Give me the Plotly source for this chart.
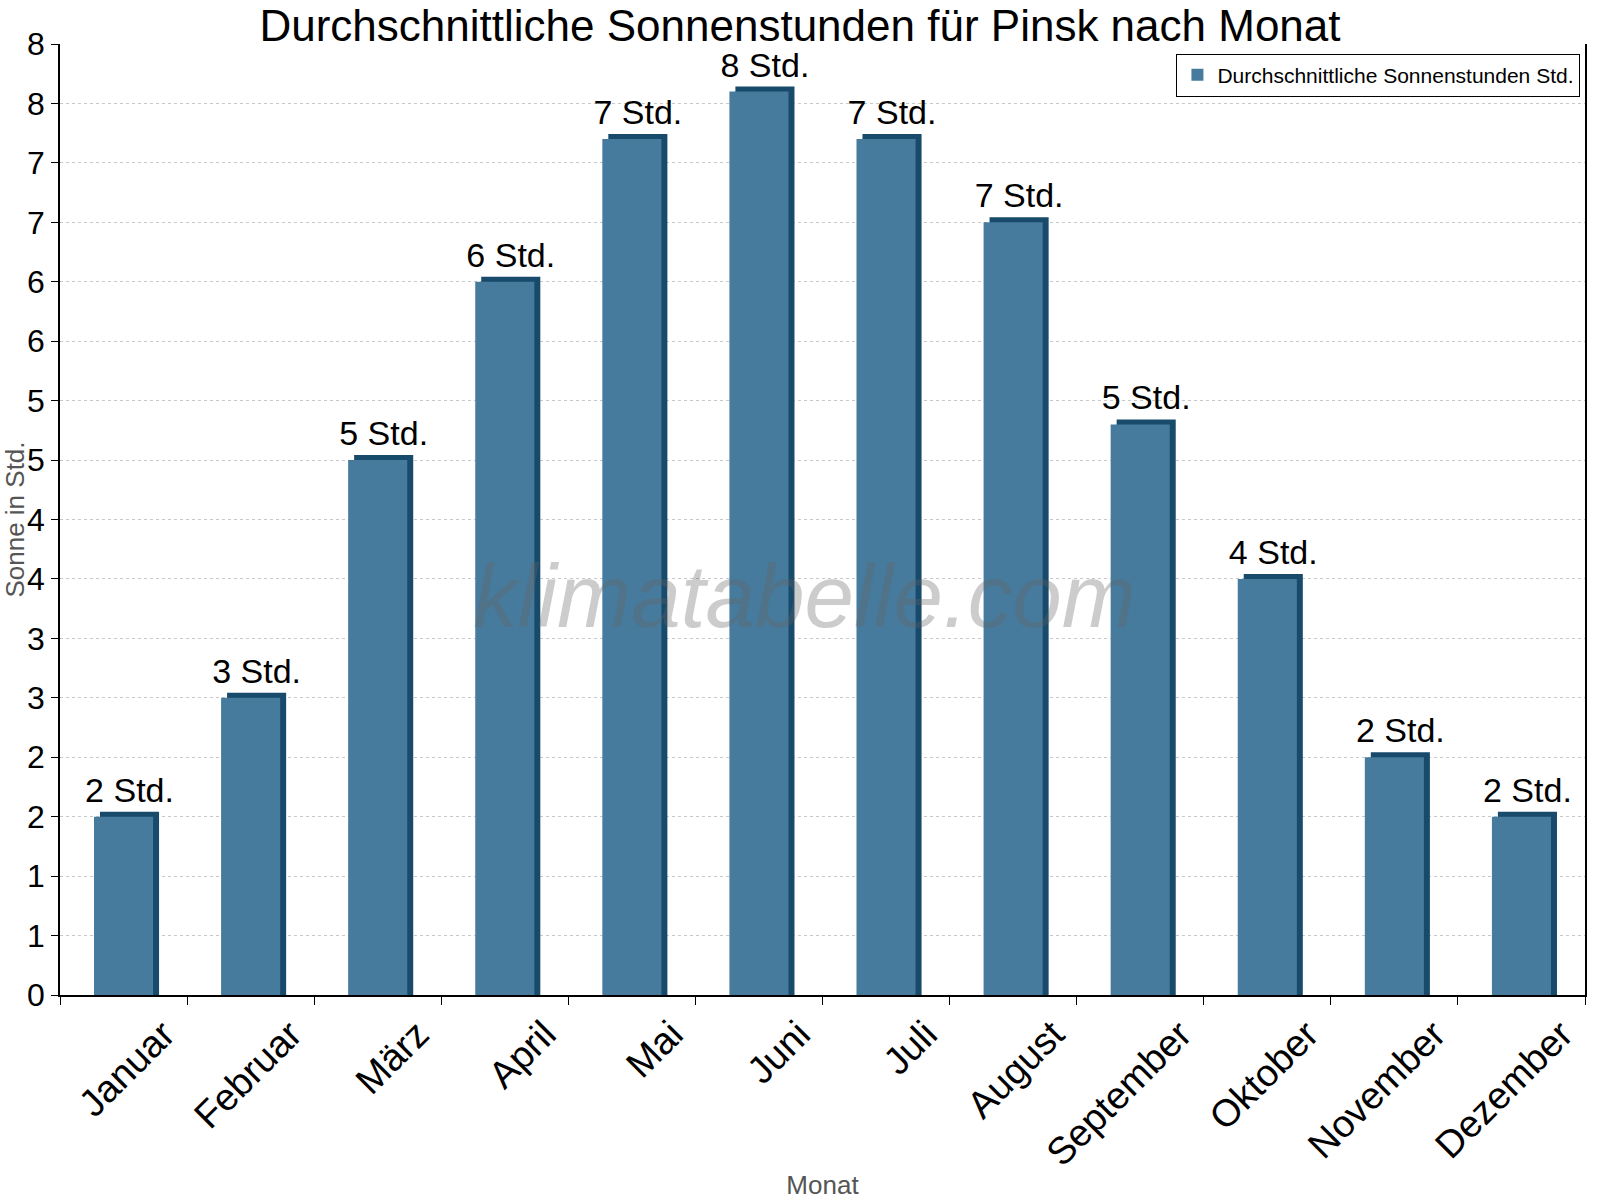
import plotly.graph_objects as go

monate = ['Januar', 'Februar', 'März', 'April', 'Mai', 'Juni',
          'Juli', 'August', 'September', 'Oktober', 'November', 'Dezember']
sonne = [1.5, 2.5, 4.5, 6.0, 7.2, 7.6, 7.2, 6.5, 4.8, 3.5, 2.0, 1.5]
y_ticks = [i * 0.5 for i in range(17)]


def rund(v):
    # round half up like the original labels
    return int(v + 0.5)


labels = [str(rund(v)) + ' Std.' for v in sonne]
tick_text = [str(rund(v)) for v in y_ticks]

front = '#467b9d'
dunkel = '#174a6b'
breite = 0.465

fig = go.Figure()

# darker block behind the bar -> gives the side/top depth look
fig.add_trace(go.Bar(
    x=monate, y=[v + 0.042 for v in sonne],
    width=breite, offset=-breite / 2 + 0.047,
    marker_color=dunkel, marker_line_width=0,
    text=labels, textposition='outside', constraintext='none',
    textfont=dict(size=34, color='black'),
    cliponaxis=False, showlegend=False, hoverinfo='skip',
))
fig.add_trace(go.Bar(
    x=monate, y=sonne,
    width=breite, offset=-breite / 2,
    marker_color=front, marker_line_width=0,
    name='Durchschnittliche Sonnenstunden Std.',
))

fig.update_layout(
    width=1600, height=1200,
    barmode='overlay',
    plot_bgcolor='white', paper_bgcolor='white',
    font=dict(family='Liberation Sans, Arial, sans-serif', color='black'),
    margin=dict(l=60, r=15, t=44, b=205),
    title=dict(text='Durchschnittliche Sonnenstunden für Pinsk nach Monat',
               x=0.5, xanchor='center', y=0.979, yanchor='middle',
               font=dict(size=44, color='black')),
    legend=dict(x=0.997, y=0.99, xanchor='right', yanchor='top',
                bordercolor='black', borderwidth=1, bgcolor='white',
                font=dict(size=21)),
    annotations=[dict(
        text='klimatabelle.com', x=0.488, y=0.42, xref='paper', yref='paper',
        showarrow=False,
        font=dict(size=89, color='rgba(100,100,100,0.33)', style='italic'),
    )],
)

fig.update_xaxes(
    showline=True, linecolor='black', linewidth=1.5,
    ticks='outside', tickson='boundaries', ticklen=8, tickcolor='black',
    tickangle=-45, tickfont=dict(size=38), ticklabelshift=40,
    title=dict(text='Monat', font=dict(size=26, color='#555555'), standoff=18),
    showgrid=False, automargin=False,
)
fig.update_yaxes(
    range=[0, 8],
    tickvals=y_ticks, ticktext=tick_text, tickfont=dict(size=32),
    showline=True, mirror=True, linecolor='black', linewidth=1.5,
    ticks='outside', ticklen=7, tickcolor='black',
    showgrid=True, gridcolor='#c8c8c8', griddash='dot', gridwidth=1,
    title=dict(text='Sonne in Std.', font=dict(size=26, color='#555555'), standoff=5),
    zeroline=False, automargin=False,
)

# page has a default body margin, drop it so the chart sits at 0,0
fig.write_html('out.html', config={'displayModeBar': False},
               post_script="document.body.style.margin='0';")
